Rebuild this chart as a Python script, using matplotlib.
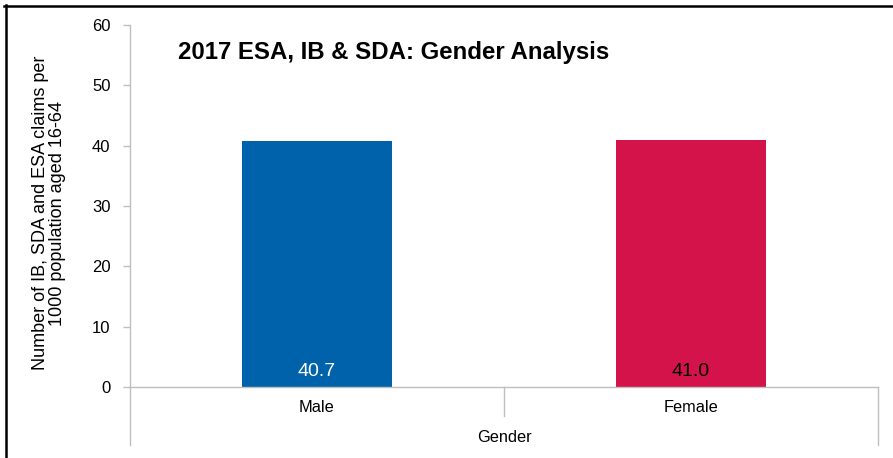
import matplotlib
matplotlib.use("Agg")
import matplotlib.pyplot as plt
from matplotlib.lines import Line2D
import matplotlib.transforms as mtransforms

plt.rcParams['font.family'] = ['Liberation Sans', 'DejaVu Sans']

categories = ["Male", "Female"]
values = [40.7, 41.0]
bar_colors = ["#0062AA", "#D4134A"]
label_colors = ["white", "black"]
yticks = [0, 10, 20, 30, 40, 50, 60]
title = "2017 ESA, IB & SDA: Gender Analysis"
ylabel = "Number of IB, SDA and ESA claims per\n1000 population aged 16-64"
xgroup = "Gender"

W, H = 893, 458
fig = plt.figure(figsize=(W / 100, H / 100), dpi=100)
ax = fig.add_axes([130 / W, 1 - 387 / H, (878 - 130) / W, (387 - 25) / H])

x = list(range(len(categories)))
bars = ax.bar(x, values, width=0.4, color=bar_colors, zorder=2)
ax.set_xlim(-0.5, len(categories) - 0.5)
ax.set_ylim(0, 60)
ax.set_yticks(yticks)
ax.set_xticks([])

grey = "#BFBFBF"
for side in ("top", "right"):
    ax.spines[side].set_visible(False)
for side in ("left", "bottom"):
    ax.spines[side].set_color(grey)
    ax.spines[side].set_linewidth(1.0)
ax.tick_params(axis="y", colors=grey, length=5, width=1.0, labelsize=12,
               labelcolor="#000000", pad=9)

# Value labels inside the bars
for b, v, c in zip(bars, values, label_colors):
    ax.text(b.get_x() + b.get_width() / 2, 2.6, f"{v:.1f}", ha="center",
            va="center", color=c, fontsize=14)

# Category axis: labels and separators
trans = mtransforms.blended_transform_factory(ax.transData, ax.transAxes)
unit = 1 / 362
for i, cat in enumerate(categories):
    ax.text(i, -20 * unit, cat, transform=trans, ha="center", va="center",
            fontsize=11.8)
edges = [-0.5 + i for i in range(len(categories) + 1)]
for i, e in enumerate(edges):
    depth = 58 if i in (0, len(edges) - 1) else 29
    ax.add_line(Line2D([e, e], [0, -depth * unit], transform=trans,
                       color=grey, lw=1.0, clip_on=False))
ax.text(sum(edges) / len(edges), -50 * unit, xgroup, transform=trans,
        ha="center", va="center", fontsize=11.8)

ax.set_ylabel(ylabel, fontsize=13, linespacing=1.0)
ax.yaxis.set_label_coords(-0.086, 0.48)

fig.text(178 / W, 1 - 52 / H, title, fontsize=17.3, fontweight="bold",
         ha="left", va="center")

# Frame lines at the top and left of the figure
fig.add_artist(Line2D([4 / W, 1], [1 - 6 / H, 1 - 6 / H],
                      transform=fig.transFigure, color="black", lw=1.8))
fig.add_artist(Line2D([5.5 / W, 5.5 / W], [0, 1 - 5 / H],
                      transform=fig.transFigure, color="black", lw=1.8))

fig.savefig("out.png", dpi=100)
